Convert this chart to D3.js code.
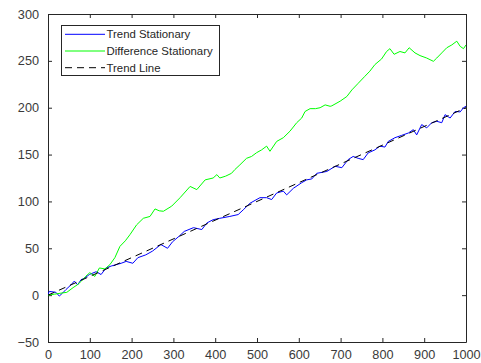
<!DOCTYPE html>
<html>
<head>
<meta charset="utf-8">
<script src="https://cdn.jsdelivr.net/npm/d3@7"></script>
<style>
  html, body { margin: 0; padding: 0; background: #fff; }
  svg { display: block; font-family: "Liberation Sans", Arial, Helvetica, sans-serif; }
</style>
</head>
<body>
<svg id="chart" width="481" height="363"></svg>
<script>
// Difference-stationary random walk
const dsT = [0,15,29,45,60,70,80,90,100,112,123,136,148,160,172,185,196,212,228,244,256,266,276,296,316,340,356,376,395,404,411,425,439,447,459,475,487,499,511,523,531,547,563,579,595,607,615,627,640,651,663,675,679,699,715,727,742,758,770,782,798,810,818,828,842,854,864,878,890,906,922,930,942,954,966,978,986,994,1000];
const dsY = [0,1,2,3,8,11,15,20,24,20,29,28,32.5,40,52,58,64.5,75,82,84,92,90,89.5,95,104,116,112.6,123,125,128.6,125,127,130,134,139,146,148,152,155,159,153.5,164,168,175,184,189,196,199,199,200,203,201.5,202,207,212,219,226,233.5,239,246,252,260,263,257,260,258.5,264,258.5,255.6,253,249.5,253,258.5,264,267,271,265.5,263,267];

// Trend-stationary series
const tsT = [0,3,19,27,35,43,55,63,71,79,87,99,115,127,139,151,163,175,187,203,215,234,250,270,286,298,314,326,348,368,380,395,411,435,455,467,483,507,523,535,547,563,571,587,607,619,631,643,667,687,703,718,730,742,754,766,782,794,806,814,830,846,862,874,882,894,906,918,930,942,950,962,974,986,994,1000];
const tsY = [1,4,3,-1,2.3,6,11,15,11,16.5,18,22,25,22,29,31,32.5,34,36,34,40,43,47,54,50,57,63,68,72,70,77,80.5,82,84,86,91,98,104,104,102,109,111,107,114,120,123,124,130,132,137.5,136,144.6,148,146,144.6,151.8,155,159,158,164,168,170.5,173,176.6,171,182,178.5,184,185.5,184,192.6,189,196,195.5,200,201.5];

// Deterministic trend line end points
const trendT = [0, 1000];
const trendY = [0, 200];

const xTicks = [0,100,200,300,400,500,600,700,800,900,1000];
const yTicks = [-50,0,50,100,150,200,250,300];

const legendLabels = ["Trend Stationary", "Difference Stationary", "Trend Line"];

const axisColor = "#262626";
const box = { left: 48, top: 14, right: 466, bottom: 342 };

const svg = d3.select("#chart");

const x = d3.scaleLinear().domain([0, 1000]).range([box.left, box.right]);
const y = d3.scaleLinear().domain([-50, 300]).range([box.bottom, box.top]);

const tickLen = 4;
const fmt = d3.format("d");

// Bottom and left axes with inward ticks
const gx = svg.append("g").attr("transform", `translate(0,${box.bottom})`)
  .call(d3.axisBottom(x).tickValues(xTicks).tickFormat(fmt).tickSizeInner(-tickLen).tickSizeOuter(0).tickPadding(8));
const gy = svg.append("g").attr("transform", `translate(${box.left},0)`)
  .call(d3.axisLeft(y).tickValues(yTicks).tickFormat(fmt).tickSizeInner(-tickLen).tickSizeOuter(0).tickPadding(9));
// Mirrored ticks on top and right
const gxt = svg.append("g").attr("transform", `translate(0,${box.top})`)
  .call(d3.axisTop(x).tickValues(xTicks).tickSizeInner(-tickLen).tickSizeOuter(0).tickFormat(""));
const gyr = svg.append("g").attr("transform", `translate(${box.right},0)`)
  .call(d3.axisRight(y).tickValues(yTicks).tickSizeInner(-tickLen).tickSizeOuter(0).tickFormat(""));

[gx, gy, gxt, gyr].forEach(g => {
  g.select(".domain").attr("stroke", axisColor).attr("stroke-width", 1);
  g.selectAll(".tick line").attr("stroke", axisColor).attr("stroke-width", 1);
  g.selectAll(".tick text").attr("fill", "#3a3a3a")
    .style("font-family", "'Liberation Sans', Arial, Helvetica, sans-serif")
    .style("font-size", "12.7px");
});

svg.append("clipPath").attr("id", "plotclip")
  .append("rect").attr("x", box.left).attr("y", box.top)
  .attr("width", box.right - box.left).attr("height", box.bottom - box.top);

const line = d3.line().x(d => x(d[0])).y(d => y(d[1]));
const plot = svg.append("g").attr("clip-path", "url(#plotclip)");

const tsData = tsT.map((t, i) => [t, tsY[i]]);
const dsData = dsT.map((t, i) => [t, dsY[i]]);
const trendData = trendT.map((t, i) => [t, trendY[i]]);

plot.append("path").datum(tsData).attr("d", line)
  .attr("fill", "none").attr("stroke", "#0000ff").attr("stroke-width", 1);
plot.append("path").datum(dsData).attr("d", line)
  .attr("fill", "none").attr("stroke", "#00ff00").attr("stroke-width", 1);
plot.append("path").datum(trendData).attr("d", line)
  .attr("fill", "none").attr("stroke", "#000").attr("stroke-width", 1)
  .attr("stroke-dasharray", "7,5");

// Legend
const legend = svg.append("g").attr("transform", "translate(61,25)");
legend.append("rect").attr("x", 0.5).attr("y", 0.5).attr("width", 158).attr("height", 50)
  .attr("fill", "#fff").attr("stroke", axisColor).attr("stroke-width", 1);
const legendStyles = [
  { stroke: "#0000ff", dash: null },
  { stroke: "#00ff00", dash: null },
  { stroke: "#000", dash: "7,5" }
];
legendLabels.forEach((label, i) => {
  const cy = 9.3 + i * 16.7;
  legend.append("line").attr("x1", 4).attr("x2", 44).attr("y1", cy).attr("y2", cy)
    .attr("stroke", legendStyles[i].stroke).attr("stroke-width", 1)
    .attr("stroke-dasharray", legendStyles[i].dash);
  legend.append("text").attr("x", 45.5).attr("y", cy).attr("dy", "0.35em")
    .attr("fill", axisColor).style("font-size", "11.4px").text(label);
});
</script>
</body>
</html>
